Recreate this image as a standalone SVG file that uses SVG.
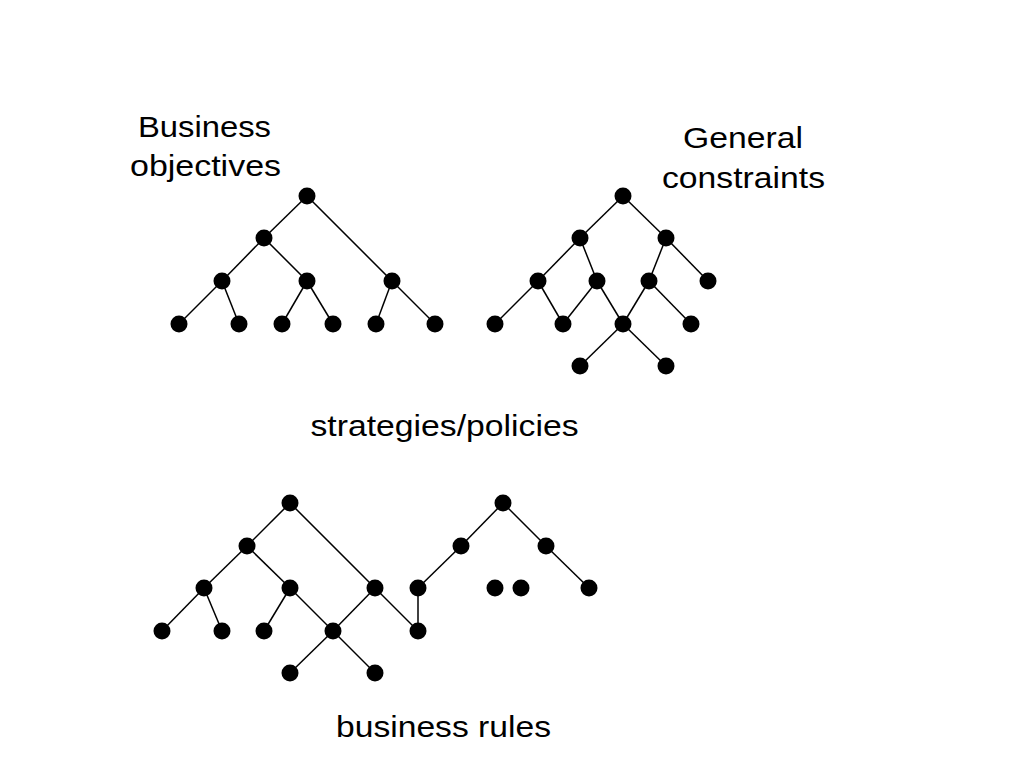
<svg xmlns="http://www.w3.org/2000/svg" width="1024" height="768" viewBox="0 0 1024 768">
<style>
.lbl{font-family:"Liberation Sans",Arial,sans-serif;font-size:30px;fill:#000;text-anchor:middle}
.n{fill:#000}
.e{stroke:#000;stroke-width:1.5;fill:none}
</style>
<rect width="1024" height="768" fill="#fff"/>
<g id="labels">
<text class="lbl" x="204.5" y="137" textLength="133" lengthAdjust="spacingAndGlyphs">Business</text>
<text class="lbl" x="205.5" y="176" textLength="151" lengthAdjust="spacingAndGlyphs">objectives</text>
<text class="lbl" x="743" y="148" textLength="120" lengthAdjust="spacingAndGlyphs">General</text>
<text class="lbl" x="743.5" y="188" textLength="163" lengthAdjust="spacingAndGlyphs">constraints</text>
<text class="lbl" x="444.5" y="436" textLength="268" lengthAdjust="spacingAndGlyphs">strategies/policies</text>
<text class="lbl" x="443.5" y="737" textLength="215" lengthAdjust="spacingAndGlyphs">business rules</text>
</g>
<g id="connectors" class="e">
<line x1="307" y1="196" x2="264" y2="238"/>
<line x1="307" y1="196" x2="392" y2="281"/>
<line x1="264" y1="238" x2="222" y2="281"/>
<line x1="264" y1="238" x2="307" y2="281"/>
<line x1="222" y1="281" x2="179" y2="324"/>
<line x1="222" y1="281" x2="239" y2="324"/>
<line x1="307" y1="281" x2="282" y2="324"/>
<line x1="307" y1="281" x2="333" y2="324"/>
<line x1="392" y1="281" x2="376" y2="324"/>
<line x1="392" y1="281" x2="435" y2="324"/>
<line x1="623" y1="196" x2="580" y2="238"/>
<line x1="623" y1="196" x2="666" y2="238"/>
<line x1="580" y1="238" x2="538" y2="281"/>
<line x1="580" y1="238" x2="597" y2="281"/>
<line x1="666" y1="238" x2="649" y2="281"/>
<line x1="666" y1="238" x2="708" y2="281"/>
<line x1="538" y1="281" x2="495" y2="324"/>
<line x1="538" y1="281" x2="563" y2="324"/>
<line x1="597" y1="281" x2="563" y2="324"/>
<line x1="597" y1="281" x2="623" y2="324"/>
<line x1="649" y1="281" x2="623" y2="324"/>
<line x1="649" y1="281" x2="691" y2="324"/>
<line x1="623" y1="324" x2="580" y2="366"/>
<line x1="623" y1="324" x2="666" y2="366"/>
<line x1="290" y1="503" x2="247" y2="546"/>
<line x1="290" y1="503" x2="375" y2="588"/>
<line x1="247" y1="546" x2="204" y2="588"/>
<line x1="247" y1="546" x2="290" y2="588"/>
<line x1="204" y1="588" x2="162" y2="631"/>
<line x1="204" y1="588" x2="222" y2="631"/>
<line x1="290" y1="588" x2="264" y2="631"/>
<line x1="290" y1="588" x2="333" y2="631"/>
<line x1="375" y1="588" x2="333" y2="631"/>
<line x1="375" y1="588" x2="418" y2="631"/>
<line x1="418" y1="588" x2="418" y2="631"/>
<line x1="333" y1="631" x2="290" y2="673"/>
<line x1="333" y1="631" x2="375" y2="673"/>
<line x1="503" y1="503" x2="461" y2="546"/>
<line x1="503" y1="503" x2="546" y2="546"/>
<line x1="461" y1="546" x2="418" y2="588"/>
<line x1="546" y1="546" x2="589" y2="588"/>
</g>
<g id="nodes" class="n">
<g id="tl"><circle cx="307" cy="196" r="8.5"/><circle cx="264" cy="238" r="8.5"/><circle cx="222" cy="281" r="8.5"/><circle cx="307" cy="281" r="8.5"/><circle cx="392" cy="281" r="8.5"/><circle cx="179" cy="324" r="8.5"/><circle cx="239" cy="324" r="8.5"/><circle cx="282" cy="324" r="8.5"/><circle cx="333" cy="324" r="8.5"/><circle cx="376" cy="324" r="8.5"/><circle cx="435" cy="324" r="8.5"/></g>
<g id="tr"><circle cx="623" cy="196" r="8.5"/><circle cx="580" cy="238" r="8.5"/><circle cx="666" cy="238" r="8.5"/><circle cx="538" cy="281" r="8.5"/><circle cx="597" cy="281" r="8.5"/><circle cx="649" cy="281" r="8.5"/><circle cx="708" cy="281" r="8.5"/><circle cx="495" cy="324" r="8.5"/><circle cx="563" cy="324" r="8.5"/><circle cx="623" cy="324" r="8.5"/><circle cx="691" cy="324" r="8.5"/><circle cx="580" cy="366" r="8.5"/><circle cx="666" cy="366" r="8.5"/></g>
<g id="bl"><circle cx="290" cy="503" r="8.5"/><circle cx="247" cy="546" r="8.5"/><circle cx="204" cy="588" r="8.5"/><circle cx="290" cy="588" r="8.5"/><circle cx="375" cy="588" r="8.5"/><circle cx="418" cy="588" r="8.5"/><circle cx="162" cy="631" r="8.5"/><circle cx="222" cy="631" r="8.5"/><circle cx="264" cy="631" r="8.5"/><circle cx="333" cy="631" r="8.5"/><circle cx="418" cy="631" r="8.5"/><circle cx="290" cy="673" r="8.5"/><circle cx="375" cy="673" r="8.5"/></g>
<g id="br"><circle cx="503" cy="503" r="8.5"/><circle cx="461" cy="546" r="8.5"/><circle cx="546" cy="546" r="8.5"/><circle cx="495" cy="588" r="8.5"/><circle cx="521" cy="588" r="8.5"/><circle cx="589" cy="588" r="8.5"/></g>
</g>
</svg>
